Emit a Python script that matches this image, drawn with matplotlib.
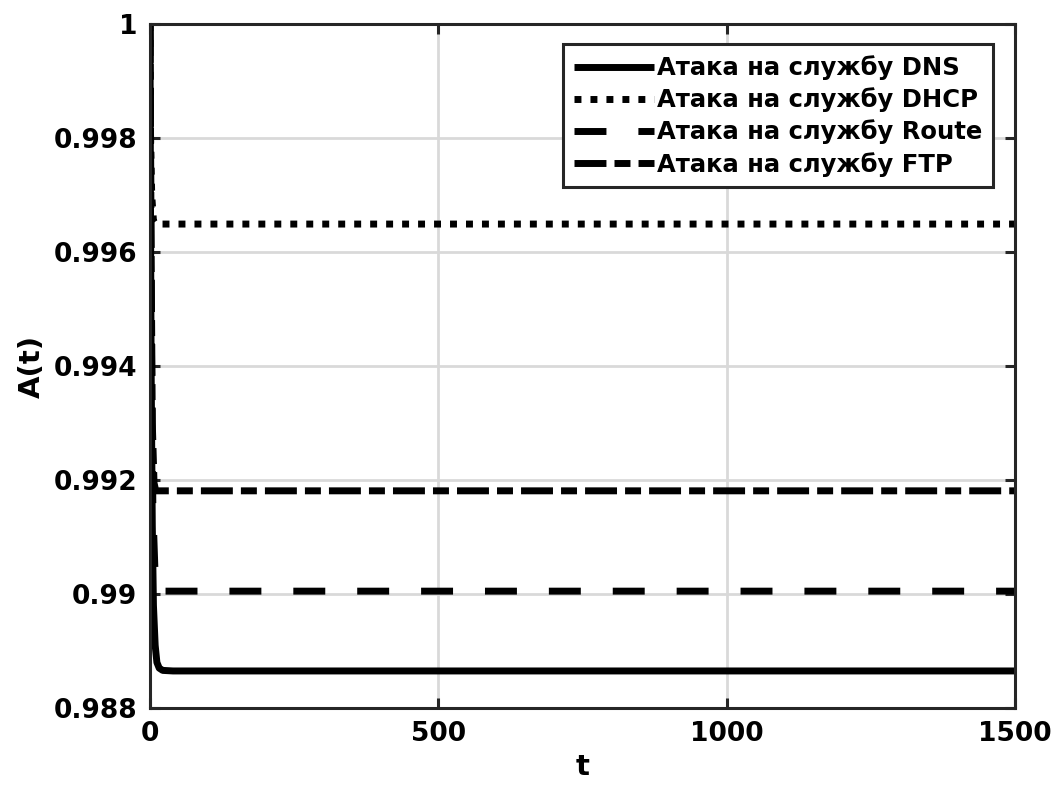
import matplotlib.pyplot as plt

plt.rcParams['font.family'] = ['DejaVu Sans']
plt.rcParams['font.weight'] = 'bold'
plt.rcParams['lines.scale_dashes'] = False

# time points (fast drop near t=0, then flat)
t_dns = [0, 1, 2, 4, 6, 9, 12, 16, 22, 40, 1500]
a_dns = [1.0, 0.9965, 0.9940, 0.9912, 0.9898, 0.9891, 0.98880, 0.98870, 0.98866, 0.98865, 0.98865]

t_dhcp = [0, 1, 3, 6, 10, 1500]
a_dhcp = [1.0, 0.9980, 0.99700, 0.99655, 0.99649, 0.99649]

t_route = [0, 2, 5, 9, 14, 1500]
a_route = [1.0, 0.9950, 0.9915, 0.99030, 0.99005, 0.99005]

t_ftp = [0, 2, 4, 7, 10, 1500]
a_ftp = [1.0, 0.9960, 0.9930, 0.99195, 0.99181, 0.99181]

labels = ["Атака на службу DNS", "Атака на службу DHCP",
          "Атака на службу Route", "Атака на службу FTP"]

fig = plt.figure(figsize=(10.51, 7.94), dpi=100)
ax = fig.add_axes([0.1427, 0.1083, 0.9658 - 0.1427, 0.9698 - 0.1083])

lw = 5
ax.plot(t_dns, a_dns, color='black', lw=lw, solid_capstyle='butt', label=labels[0])
ax.plot(t_dhcp, a_dhcp, color='black', lw=lw, linestyle=(0, (5, 6.5)), label=labels[1])
ax.plot(t_route, a_route, color='black', lw=lw, linestyle=(0, (23, 23)), label=labels[2])
ax.plot(t_ftp, a_ftp, color='black', lw=lw, linestyle=(0, (23, 5.8, 11.5, 5.8)), label=labels[3])

ax.set_xlim(0, 1500)
ax.set_ylim(0.988, 1.0)
ax.set_xticks([0, 500, 1000, 1500])
ax.set_yticks([0.988, 0.99, 0.992, 0.994, 0.996, 0.998, 1.0])
ax.set_yticklabels(['0.988', '0.99', '0.992', '0.994', '0.996', '0.998', '1'])

ax.grid(True, color='#d9d9d9', lw=2)
ax.set_axisbelow(True)
for s in ax.spines.values():
    s.set_linewidth(2.2)
    s.set_color('#262626')
ax.tick_params(direction='in', length=7, width=2.2, top=True, right=True,
               labelsize=19, pad=9, color='#262626')

ax.set_xlabel('t', fontsize=21, fontweight='bold', labelpad=5)
ax.set_ylabel('A(t)', fontsize=21, fontweight='bold', labelpad=6)

leg = ax.legend(loc='upper right', bbox_to_anchor=(0.975, 0.97), borderaxespad=0,
                fontsize=17.5, handlelength=3.3, handletextpad=0.12, labelspacing=0.3,
                borderpad=0.45, fancybox=False, framealpha=1, edgecolor='#262626')
leg.get_frame().set_linewidth(2.2)
for txt in leg.get_texts():
    txt.set_fontweight('bold')

plt.savefig('out.png', dpi=100)
